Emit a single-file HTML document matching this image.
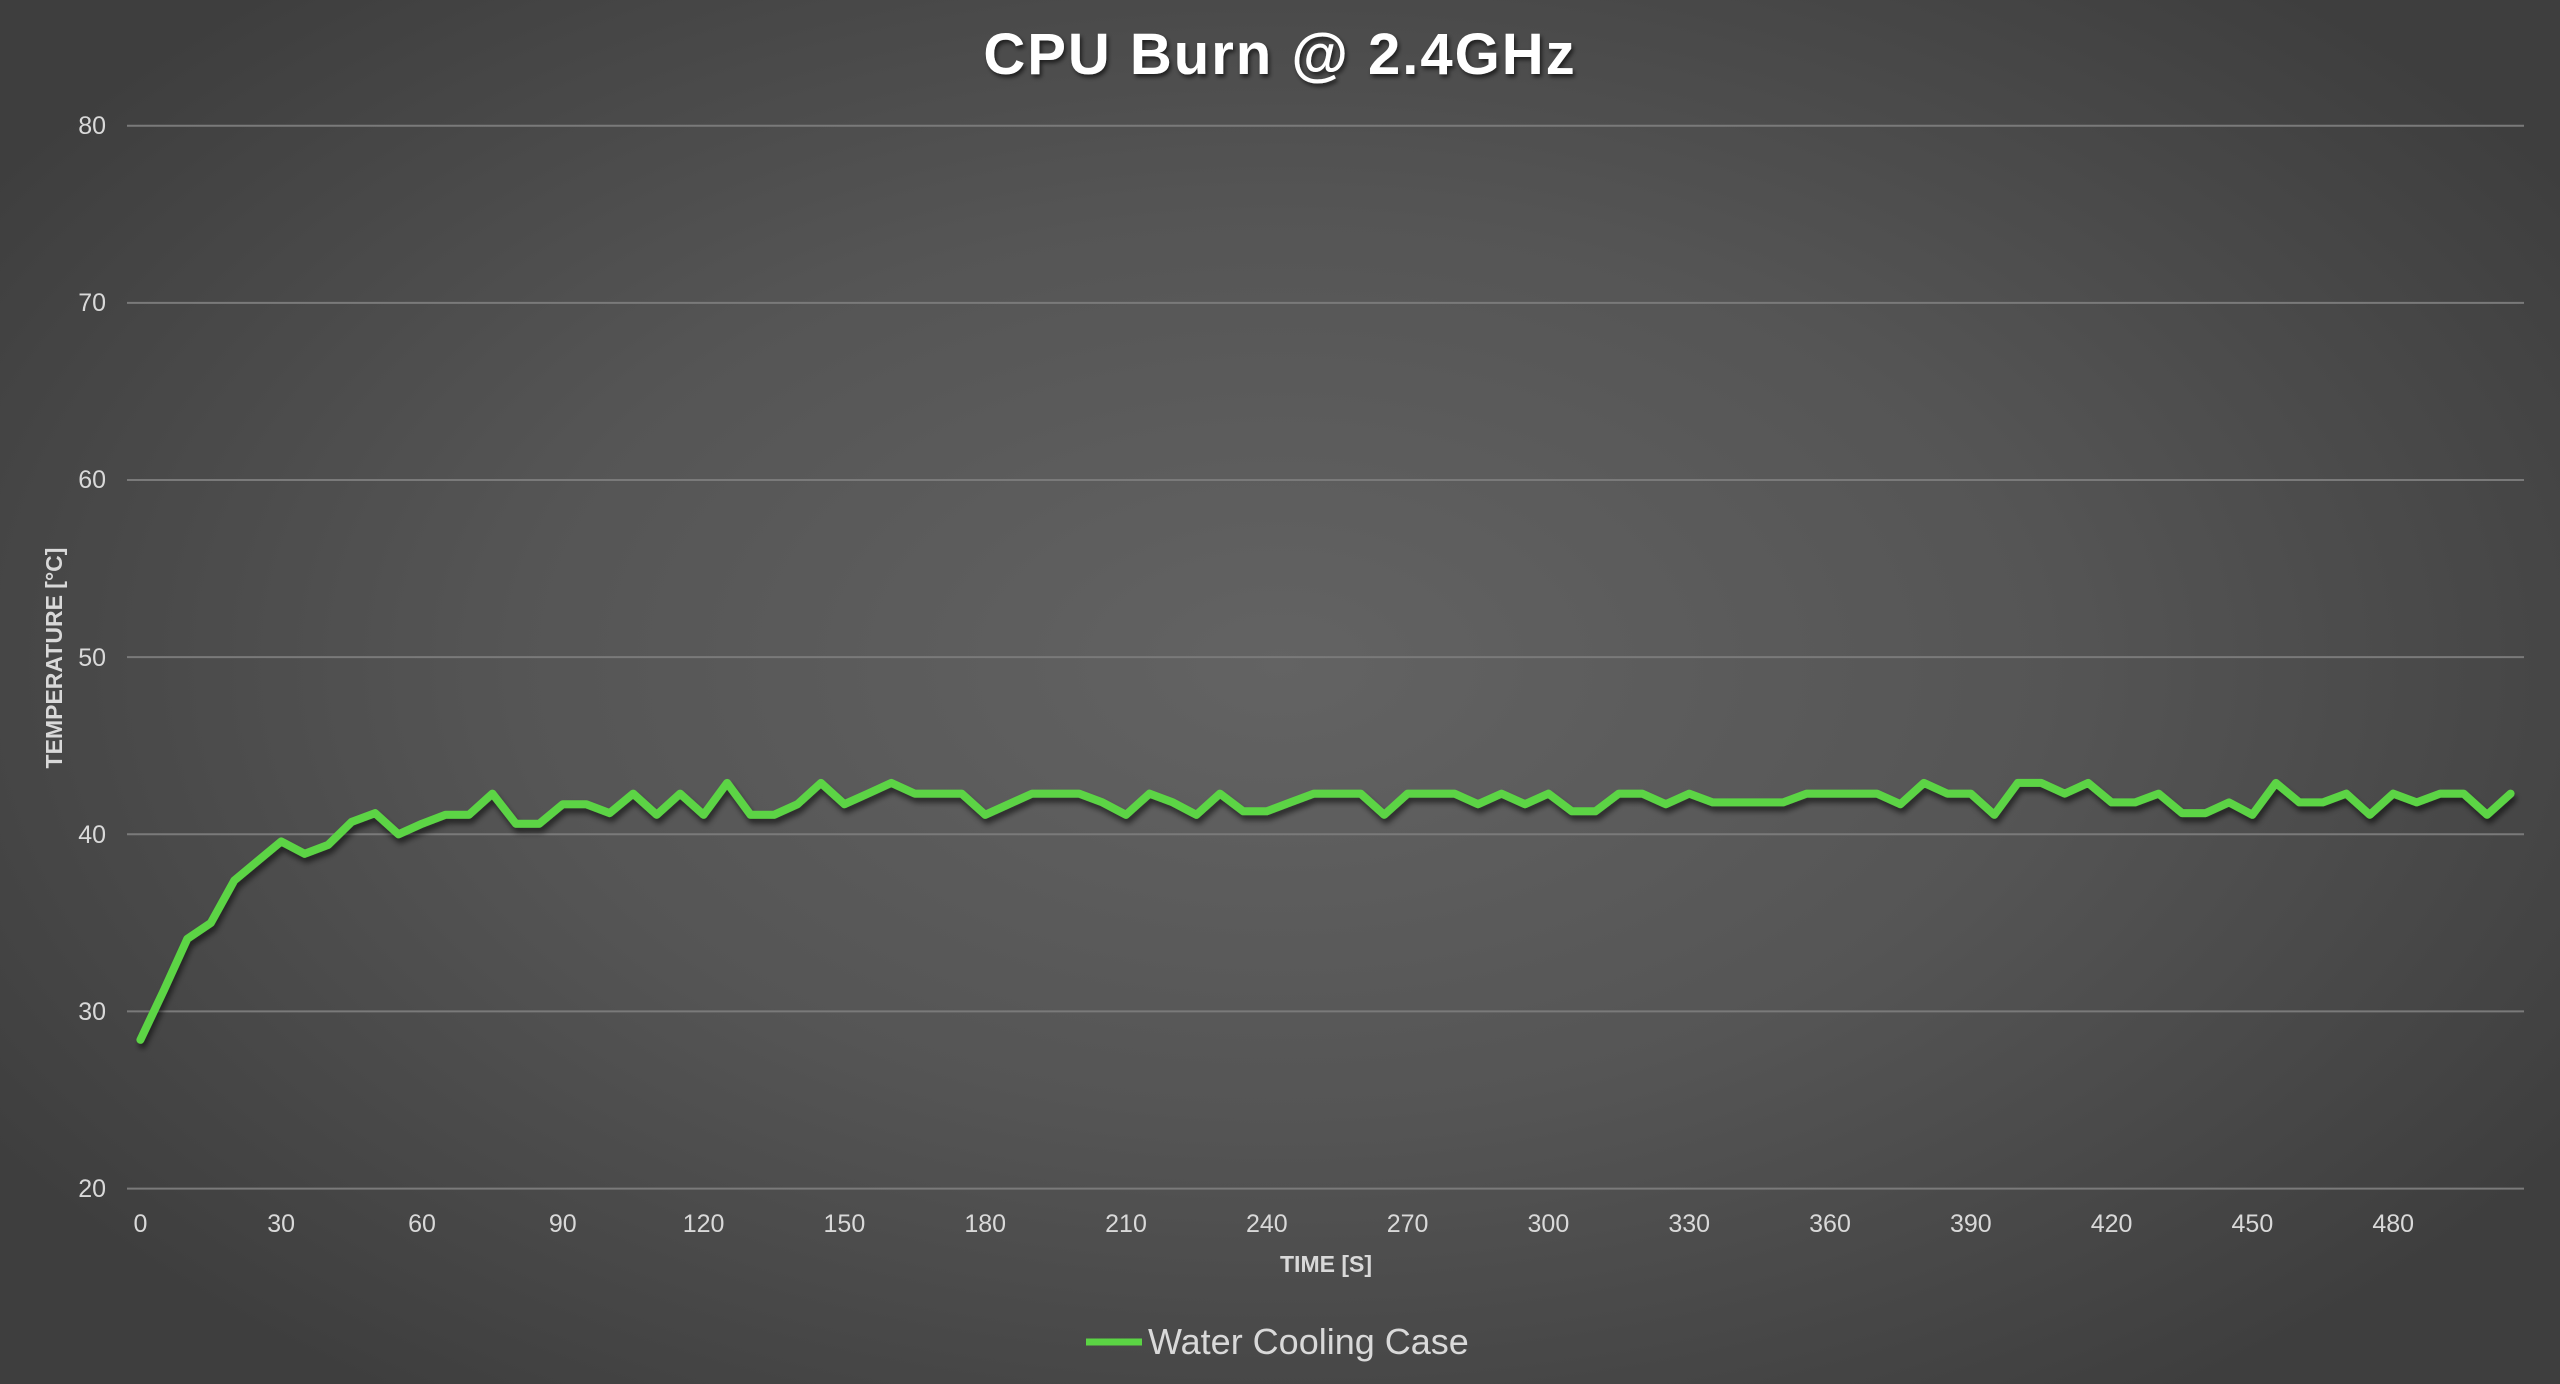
<!DOCTYPE html>
<html><head><meta charset="utf-8"><style>
html,body{margin:0;padding:0;width:2560px;height:1384px;overflow:hidden;}
body{background:radial-gradient(ellipse 60% 65% at 50% 48%,#636363 0%,#555 50%,#3e3e3e 100%);}
svg{position:absolute;left:0;top:0;}
</style></head><body>
<svg width="2560" height="1384" viewBox="0 0 2560 1384" xmlns="http://www.w3.org/2000/svg">
<defs><filter id="sh" x="-5%" y="-20%" width="110%" height="140%"><feDropShadow dx="2" dy="5" stdDeviation="3" flood-color="#000" flood-opacity="0.55"/></filter>
<filter id="ts"><feDropShadow dx="2" dy="3" stdDeviation="2" flood-color="#000" flood-opacity="0.6"/></filter></defs>
<text x="1280" y="74" text-anchor="middle" font-family="Liberation Sans, sans-serif" font-weight="bold" font-size="58" fill="#fff" filter="url(#ts)" letter-spacing="2">CPU Burn @ 2.4GHz</text>
<g stroke="#7a7a7a" stroke-width="2">
<line x1="127" x2="2524" y1="125.7" y2="125.7"/><line x1="127" x2="2524" y1="302.9" y2="302.9"/><line x1="127" x2="2524" y1="480" y2="480"/><line x1="127" x2="2524" y1="657.1" y2="657.1"/><line x1="127" x2="2524" y1="834.3" y2="834.3"/><line x1="127" x2="2524" y1="1011.4" y2="1011.4"/><line x1="127" x2="2524" y1="1188.6" y2="1188.6"/>
</g>
<g font-family="Liberation Sans, sans-serif" font-size="25" fill="#d9d9d9" text-anchor="end">
<text x="106" y="134">80</text><text x="106" y="311">70</text><text x="106" y="488">60</text><text x="106" y="666">50</text><text x="106" y="843">40</text><text x="106" y="1020">30</text><text x="106" y="1197">20</text>
</g>
<g font-family="Liberation Sans, sans-serif" font-size="25" fill="#d9d9d9" text-anchor="middle" id="xl"></g>
<text x="1326" y="1272" text-anchor="middle" font-family="Liberation Sans, sans-serif" font-weight="bold" font-size="23" fill="#d9d9d9">TIME [S]</text>
<text transform="translate(62,658) rotate(-90)" text-anchor="middle" font-family="Liberation Sans, sans-serif" font-weight="bold" font-size="23" fill="#d9d9d9">TEMPERATURE [°C]</text>
<polyline id="ln" fill="none" stroke="#5bd444" stroke-width="8" stroke-linejoin="round" stroke-linecap="round" filter="url(#sh)" points=""/>
<line x1="1086" x2="1142" y1="1342" y2="1342" stroke="#5bd444" stroke-width="7"/>
<text x="1148" y="1354" font-family="Liberation Sans, sans-serif" font-size="36" fill="#d9d9d9">Water Cooling Case</text>
</svg>
<script>
var v=[28.4,31.2,34.1,35.0,37.4,38.5,39.6,38.9,39.4,40.7,41.2,40.0,40.6,41.1,41.1,42.3,40.6,40.6,41.7,41.7,41.2,42.3,41.1,42.3,41.1,42.9,41.1,41.1,41.7,42.9,41.7,42.3,42.9,42.3,42.3,
42.3,41.1,41.7,42.3,42.3,42.3,41.8,41.1,42.3,41.8,41.1,42.3,41.3,41.3,41.8,42.3,42.3,42.3,41.1,42.3,42.3,42.3,41.7,42.3,41.7,42.3,41.3,41.3,42.3,42.3,41.7,42.3,41.8,
41.8,41.8,41.8,42.3,42.3,42.3,42.3,41.7,42.9,42.3,42.3,41.1,42.9,42.9,42.3,42.9,41.8,41.8,42.3,41.2,41.2,41.8,41.1,42.9,41.8,41.8,42.3,41.1,42.3,41.8,42.3,42.3,41.1,42.3];
var p=[];for(var i=0;i<v.length;i++){p.push((140.4+i*23.467).toFixed(1)+","+(1188.6-(v[i]-20)*17.714).toFixed(1));}
document.getElementById("ln").setAttribute("points",p.join(" "));
var g=document.getElementById("xl"),s="";
for(var t=0;t<=480;t+=30){s+='<text x="'+(140.4+t/30*140.8).toFixed(1)+'" y="1232">'+t+'</text>';}
g.innerHTML=s;
</script>
</body></html>
